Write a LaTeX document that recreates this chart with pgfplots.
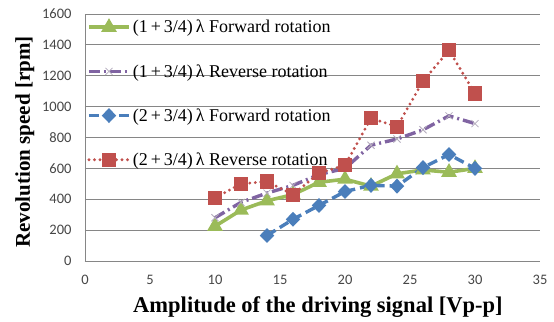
\documentclass[border=0pt]{standalone}
\usepackage{pgfplots}
\pgfplotsset{compat=1.18}
\usepackage{fontspec}
\setmainfont{Liberation Serif}
\newfontfamily\tickfont{Carlito}
\definecolor{cgreen}{RGB}{155,187,89}
\definecolor{cpurple}{RGB}{128,100,162}
\definecolor{cblue}{RGB}{74,126,187}
\definecolor{cred}{RGB}{192,80,77}
\definecolor{cgrid}{RGB}{134,134,134}
\definecolor{ctick}{RGB}{70,70,70}
\begin{document}
\begin{tikzpicture}
\begin{axis}[
  scale only axis,
  width=455bp, height=247bp,
  xmin=0, xmax=35, ymin=0, ymax=1600,
  xtick={0,5,...,35}, ytick={0,200,...,1600},
  axis lines=left,
  axis line style={-, draw=cgrid, line width=0.8bp},
  ymajorgrids, grid style={draw=cgrid, line width=0.8bp},
  major tick length=0pt,
  tick label style={font=\fontsize{14.5bp}{16bp}\tickfont, text=ctick},
  /pgf/number format/assume math mode=true,
  /pgf/number format/1000 sep={},
  xticklabel style={yshift=-11bp},
  yticklabel style={xshift=-10bp},
  xlabel={\bfseries Amplitude of the driving signal [Vp-p]},
  ylabel={\bfseries Revolution speed [rpm]},
  xlabel style={font=\fontsize{22.5bp}{24bp}\selectfont, at={(axis description cs:0.512,-0.2105)}, anchor=base},
  ylabel style={font=\fontsize{21bp}{23bp}\selectfont, at={(axis description cs:-0.132,0.482)}, anchor=center},
  legend style={at={(0,1)}, anchor=north west, draw=none, fill=none,
    font=\fontsize{18bp}{19bp}\selectfont, row sep=26bp,
    inner xsep=2bp, inner ysep=4bp, cells={anchor=west}},
  legend image code/.code={\draw[mark repeat=2,mark phase=2] plot coordinates {(0bp,0bp)(20bp,0bp)(40bp,0bp)};},
]
\addplot[cgreen, line width=3.6bp, mark=triangle*, mark size=5.5bp, mark options={solid}]
  coordinates {(10,225)(12,330)(14,390)(16,430)(18,510)(20,530)(22,485)(24,565)(26,590)(28,575)(30,600)};
\addlegendentry{(1\,+\,3/4)\,λ Forward rotation}
\addplot[cpurple, line width=3.4bp, dash pattern=on 11bp off 4bp on 2bp off 4bp, mark=x, mark size=5bp, mark options={solid, draw=cpurple!45!gray!60, line width=0.8bp}]
  coordinates {(10,280)(12,380)(14,440)(16,490)(18,560)(20,600)(22,750)(24,790)(26,850)(28,940)(30,890)};
\addlegendentry{(1\,+\,3/4)\,λ Reverse rotation}
\addplot[cblue, line width=3.4bp, dash pattern=on 10bp off 5bp, mark=diamond*, mark size=5bp, mark options={solid, xscale=1.3}]
  coordinates {(14,165)(16,270)(18,360)(20,450)(22,490)(24,485)(26,605)(28,690)(30,600)};
\addlegendentry{(2\,+\,3/4)\,λ Forward rotation}
\addplot[cred, line width=3.2bp, dash pattern=on 0pt off 5.5bp, line cap=round, mark=square*, mark size=5.5bp, mark options={solid}]
  coordinates {(10,408)(12,500)(14,515)(16,430)(18,570)(20,620)(22,925)(24,870)(26,1165)(28,1365)(30,1085)};
\addlegendentry{(2\,+\,3/4)\,λ Reverse rotation}
\end{axis}
\useasboundingbox (-85bp,-61bp) rectangle (469bp,261bp);
\end{tikzpicture}
\end{document}
